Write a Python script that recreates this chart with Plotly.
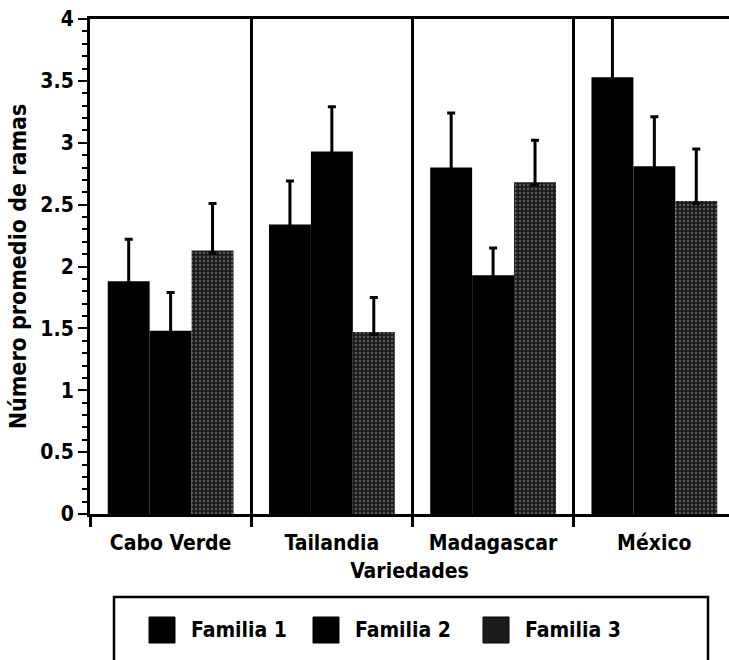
import plotly.graph_objects as go

# Varieties on the x axis
variedades = ["Cabo Verde", "Tailandia", "Madagascar", "México"]

# Mean number of branches per family and the upper error (SE)
familia_1 = [1.88, 2.34, 2.80, 3.53]
familia_2 = [1.48, 2.93, 1.93, 2.81]
familia_3 = [2.13, 1.47, 2.68, 2.53]
err_1 = [0.34, 0.35, 0.44, 0.51]
err_2 = [0.31, 0.36, 0.22, 0.40]
err_3 = [0.38, 0.28, 0.34, 0.42]

nombres = ["Familia 1", "Familia 2", "Familia 3"]
y_ticks = [0, 0.5, 1, 1.5, 2, 2.5, 3, 3.5, 4]

FONT = "Liberation Sans Narrow, DejaVu Sans Condensed, Arial Narrow, sans-serif"
W, H = 729, 660
L, R, T, B = 90, 0, 19, 146


def err_bar(vals):
    # upper whisker only; the short lower stub stays hidden inside the bar
    return dict(type="data", array=vals, arrayminus=[0.02] * len(vals),
                symmetric=False, color="black", thickness=3, width=4)


fig = go.Figure()
fig.add_trace(go.Bar(x=variedades, y=familia_1, name=nombres[0],
                     marker=dict(color="black", line=dict(width=0)),
                     error_y=err_bar(err_1), cliponaxis=False))
fig.add_trace(go.Bar(x=variedades, y=familia_2, name=nombres[1],
                     marker=dict(color="black", line=dict(width=0)),
                     error_y=err_bar(err_2), cliponaxis=False))
fig.add_trace(go.Bar(x=variedades, y=familia_3, name=nombres[2],
                     marker=dict(color="#1c1c1c", line=dict(width=0),
                                 pattern=dict(shape=".", fgcolor="#a0a0a0",
                                              size=4, solidity=0.25)),
                     error_y=err_bar(err_3), cliponaxis=False))


# Hand-drawn legend box (open at the bottom edge of the page)
def px_x(px):
    return (px - L) / (W - L - R)


def px_y(py):
    return (H - B - py) / (H - T - B)


shapes = [
    dict(type="path", xref="paper", yref="paper",
         path=f"M{px_x(114)},{px_y(668)} L{px_x(114)},{px_y(597)} "
              f"L{px_x(708)},{px_y(597)} L{px_x(708)},{px_y(668)}",
         line=dict(color="black", width=2.5)),
]
annotations = []
legend_x = [149, 313, 483]
for i, nm in enumerate(nombres):
    x0 = legend_x[i]
    shapes.append(dict(type="rect", xref="paper", yref="paper",
                       x0=px_x(x0), x1=px_x(x0 + 26),
                       y0=px_y(643), y1=px_y(617),
                       fillcolor="black" if i < 2 else "#1c1c1c",
                       line=dict(color="black", width=1)))
    annotations.append(dict(text=nm, xref="paper", yref="paper",
                            x=px_x(x0 + 40), y=px_y(630),
                            xanchor="left", yanchor="middle", showarrow=False,
                            font=dict(family=FONT, size=21, color="black",
                                      weight="bold")))

fig.update_layout(
    width=W, height=H,
    margin=dict(l=L, r=R, t=T, b=B),
    paper_bgcolor="white", plot_bgcolor="white",
    barmode="group", bargap=0.22, bargroupgap=0,
    showlegend=False,
    font=dict(family=FONT, color="black", weight="bold"),
    shapes=shapes, annotations=annotations,
)
fig.update_xaxes(
    type="category", range=[-0.5, 3.463],
    tickson="boundaries", ticks="outside", ticklen=10, tickwidth=3,
    tickcolor="black", ticklabelstandoff=8,
    showgrid=True, gridcolor="black", gridwidth=3,
    showline=True, linecolor="black", linewidth=3, mirror=True,
    tickfont=dict(family=FONT, size=21, weight="bold"),
    title=dict(text="Variedades", standoff=10,
               font=dict(family=FONT, size=21, weight="bold")),
)
fig.update_yaxes(
    range=[0, 4], tickvals=y_ticks, ticktext=[f"{v:g}" for v in y_ticks],
    ticks="outside", ticklen=9, tickwidth=2, tickcolor="black",
    minor=dict(dtick=0.1, ticks="outside", ticklen=5, tickwidth=2,
               tickcolor="black", showgrid=False),
    showgrid=False, zeroline=False,
    showline=True, linecolor="black", linewidth=3,
    tickfont=dict(family=FONT, size=21, weight="bold"),
    title=dict(text="Número promedio de ramas", standoff=8,
               font=dict(family=FONT, size=23, weight="bold")),
)

fig.write_html("out.html")
